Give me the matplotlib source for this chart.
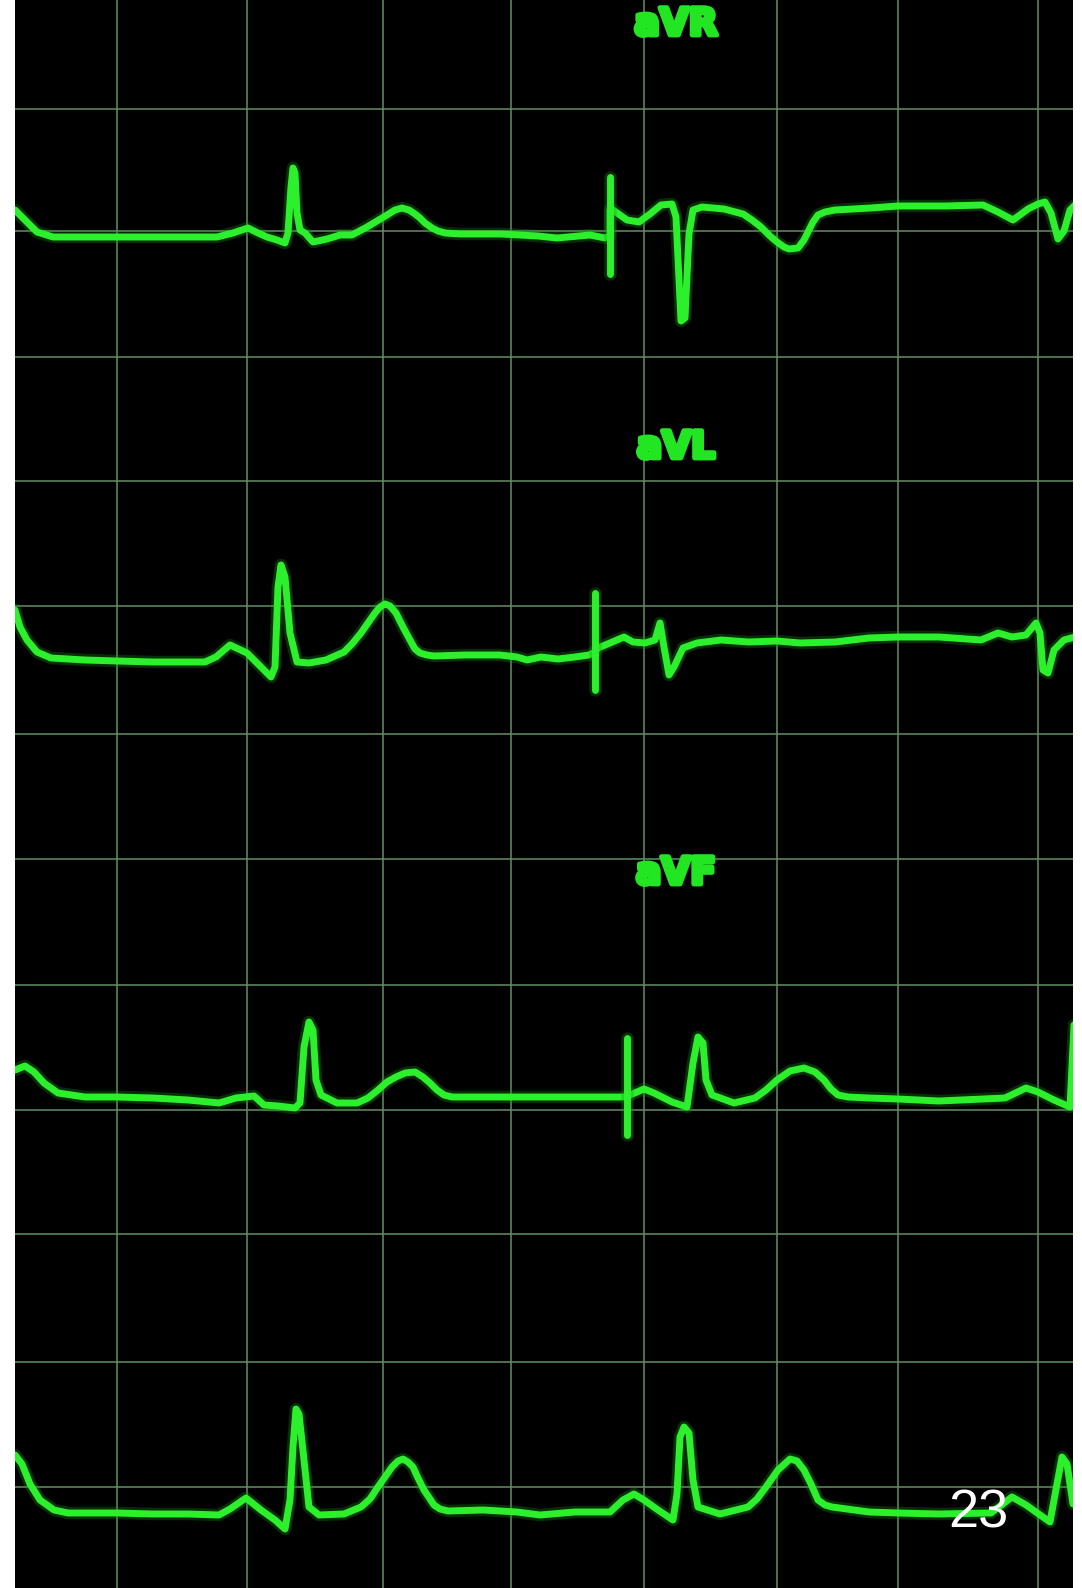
import matplotlib.pyplot as plt
import matplotlib.patheffects as pe

# --- trace data (pixel coords of the 1082x1588 image) ---

# aVR (top row)
avr_x = [15, 27, 37, 53, 117, 167, 217, 233, 248, 258, 267, 277, 285, 288, 291, 293, 295, 297,
         300, 305, 313, 327, 340, 352, 367, 387, 395, 402, 409, 415, 420, 425, 432, 438, 445,
         460, 501, 538, 557, 590, 605, 610, 610, 613, 627, 639, 650, 661, 672, 676, 681, 685,
         689, 693, 702, 724, 743, 752, 761, 770, 777, 784, 789, 798, 804, 809, 813, 818, 825,
         835, 871, 898, 945, 983, 998, 1013, 1028, 1038, 1045, 1051, 1058, 1064, 1070, 1075]
avr_y = [210, 222, 232, 237, 237, 237, 237, 233, 228, 233, 237, 240, 243, 233, 187, 168, 173, 213,
         230, 233, 242, 239, 235, 235, 227, 215, 210, 208, 210, 214, 218, 223, 228, 231, 233,
         234, 234, 236, 238, 235, 238, 236, 210, 210, 220, 222, 214, 205, 204, 217, 321, 318,
         234, 210, 207, 209, 214, 220, 227, 236, 242, 247, 249, 248, 240, 230, 222, 215, 212,
         210, 208, 206, 206, 205, 212, 220, 209, 204, 202, 213, 239, 231, 210, 205]

# aVL (second row)
avl_x = [15, 20, 27, 37, 51, 85, 117, 153, 188, 205, 216, 230, 247, 261, 271, 275, 278, 281,
         285, 290, 297, 309, 326, 344, 352, 361, 368, 375, 380, 385, 390, 396, 403, 410, 415,
         420, 427, 434, 465, 500, 517, 527, 541, 558, 575, 589, 595, 598, 610, 624, 633, 645,
         655, 660, 664, 669, 674, 683, 697, 721, 749, 777, 800, 835, 869, 898, 939, 981, 998,
         1012, 1026, 1036, 1040, 1043, 1048, 1054, 1064, 1075]
avl_y = [610, 627, 640, 652, 658, 660, 661, 662, 662, 662, 657, 645, 653, 667, 677, 667, 587, 565,
         577, 633, 662, 663, 660, 652, 644, 633, 623, 613, 607, 604, 606, 613, 627, 640, 649,
         653, 655, 656, 655, 655, 657, 660, 657, 659, 657, 655, 652, 648, 643, 637, 642, 643,
         640, 623, 647, 675, 667, 648, 643, 640, 642, 641, 643, 642, 638, 637, 637, 640, 633,
         637, 635, 623, 633, 670, 673, 650, 640, 637]

# aVF (third row)
avf_x = [15, 25, 34, 44, 58, 85, 117, 153, 188, 219, 236, 254, 264, 278, 295, 300, 304, 309,
         313, 316, 321, 337, 357, 368, 378, 387, 396, 405, 415, 423, 430, 437, 444, 452, 465,
         500, 540, 575, 610, 623, 627, 630, 644, 654, 672, 687, 693, 698, 703, 706, 712, 734,
         755, 766, 777, 790, 804, 815, 824, 831, 838, 848, 869, 898, 939, 1005, 1026, 1038,
         1054, 1070, 1074]
avf_y = [1070, 1066, 1072, 1083, 1093, 1097, 1097, 1098, 1100, 1103, 1098, 1096, 1105, 1106, 1108,
         1103, 1047, 1022, 1030, 1080, 1095, 1103, 1103, 1098, 1090, 1082, 1077, 1073, 1072,
         1077, 1083, 1090, 1095, 1097, 1097, 1097, 1097, 1097, 1097, 1097, 1096, 1095, 1089,
         1093, 1102, 1107, 1063, 1037, 1043, 1080, 1095, 1103, 1098, 1090, 1080, 1071, 1068,
         1072, 1080, 1089, 1095, 1097, 1098, 1099, 1101, 1098, 1088, 1092, 1100, 1107, 1025]

# bottom rhythm strip
rhy_x = [15, 22, 30, 40, 54, 68, 117, 153, 188, 219, 230, 246, 261, 275, 285, 290, 293, 296,
         299, 304, 309, 319, 344, 361, 370, 378, 392, 398, 403, 408, 413, 418, 424, 434, 440,
         448, 483, 517, 540, 575, 610, 623, 634, 644, 658, 673, 677, 680, 684, 689, 693, 698,
         720, 748, 757, 766, 778, 790, 797, 804, 811, 818, 825, 832, 869, 898, 939, 991, 1012,
         1026, 1050, 1057, 1062, 1067, 1073]
rhy_y = [1455, 1464, 1484, 1500, 1510, 1513, 1513, 1514, 1514, 1515, 1509, 1498, 1510, 1520, 1529,
         1500, 1447, 1409, 1414, 1460, 1507, 1515, 1514, 1507, 1499, 1487, 1467, 1461, 1459,
         1462, 1467, 1478, 1490, 1505, 1509, 1511, 1510, 1512, 1515, 1512, 1512, 1500, 1494,
         1500, 1510, 1520, 1494, 1437, 1427, 1433, 1480, 1507, 1514, 1507, 1499, 1487, 1470,
         1459, 1461, 1470, 1484, 1500, 1505, 1507, 1512, 1513, 1514, 1513, 1497, 1505, 1522,
         1484, 1457, 1464, 1504]

# calibration pulses: x, top, bottom
cal_x = [610, 595, 627]
cal_top = [177, 593, 1038]
cal_bottom = [274, 690, 1135]

lead_names = ['aVR', 'aVL', 'aVF']
lead_label_y = [25, 448, 874]

grid_x = [117, 247, 383, 511, 644, 777, 898, 1038]
grid_y = [109, 231, 357, 481, 606, 734, 859, 985, 1110, 1234, 1362, 1487]

# --- figure ---
W, H = 1082, 1588
fig = plt.figure(figsize=(W / 100, H / 100), dpi=100)
fig.patch.set_facecolor('white')
ax = fig.add_axes([15 / W, 0, (1073 - 15) / W, 1])
ax.set_facecolor('black')
ax.set_xlim(15, 1073)
ax.set_ylim(H, 0)

ax.set_xticks(grid_x)
ax.set_yticks(grid_y)
ax.grid(True, color='#628f62', lw=1.1)
ax.tick_params(length=0, labelbottom=False, labelleft=False)
for s in ax.spines.values():
    s.set_visible(False)

core = '#2cf02c'
glow = '#119911'
for xs, ys in [(avr_x, avr_y), (avl_x, avl_y), (avf_x, avf_y), (rhy_x, rhy_y)]:
    ax.plot(xs, ys, color=glow, lw=9, alpha=0.3, solid_joinstyle='round', solid_capstyle='round')
    ax.plot(xs, ys, color=core, lw=5, solid_joinstyle='round', solid_capstyle='round')

ax.vlines(cal_x, cal_top, cal_bottom, color=glow, lw=9, alpha=0.3, capstyle='round')
ax.vlines(cal_x, cal_top, cal_bottom, color=core, lw=5, capstyle='round')

for name, ly in zip(lead_names, lead_label_y):
    ax.text(676, ly, name, ha='center', va='center', fontsize=27, fontweight='bold',
            family='DejaVu Sans', color='#22e622',
            path_effects=[pe.withStroke(linewidth=3.5, foreground='#22e622')])

ax.text(978, 1513, '23', ha='center', va='center', fontsize=39, color='white',
        family='Liberation Sans', zorder=10)

fig.savefig('out.png', dpi=100, facecolor='white')
